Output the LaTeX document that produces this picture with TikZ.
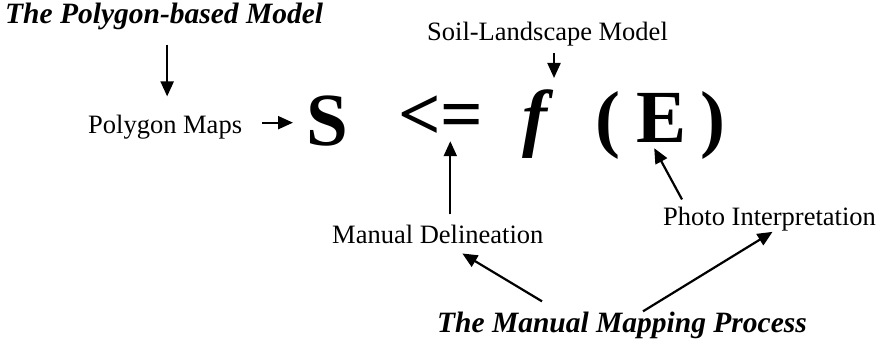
\documentclass[tikz,border=0pt]{standalone}
\usepackage{fontspec}
\setmainfont{Liberation Serif}
\usetikzlibrary{arrows.meta,positioning}

\begin{document}
\begin{tikzpicture}[
    x=1pt, y=-1pt,
    >={Triangle[length=15pt,width=13pt]},
    lbl/.style={inner sep=0pt, anchor=base west, font=\fontsize{26.5pt}{30pt}\selectfont},
    title/.style={inner sep=0pt, anchor=base west, font=\fontsize{29.5pt}{34pt}\selectfont\bfseries\itshape},
    eqn/.style={inner sep=0pt, anchor=base west, font=\fontsize{75pt}{80pt}\selectfont\bfseries},
    arr/.style={->, line width=2.2pt}
]
\useasboundingbox (0,0) rectangle (878,345);

% texts
\node[title] (polymodel) at (5,24) {The Polygon-based Model};
\node[lbl] (polymaps) at (88,133) {Polygon Maps};
\node[lbl] (soil) at (427,41) {Soil-Landscape Model};
\node[lbl] (delin) at (332,243) {Manual Delineation};
\node[lbl] (photo) at (663,225) {Photo Interpretation};
\node[title] (mmp) at (437,332) {The Manual Mapping Process};

% the formula
\node[eqn] (S) at (306,145) {S};
\node[eqn] (leq) at (398,139) {<=};
\node[eqn, font=\fontsize{75pt}{80pt}\selectfont\bfseries\itshape] (f) at (522,142) {f};
\node[eqn] (lpar) at (595,143) {(};
\node[eqn] (E) at (636,142) {E};
\node[eqn] (rpar) at (700,143) {)};

% arrows
\draw[arr, shorten <=14pt, shorten >=18pt] ([xshift=3pt]polymodel.south) -- ([xshift=3pt]polymodel.south |- polymaps.north);
\draw[arr, shorten <=20pt, shorten >=13pt] ([yshift=4pt]polymaps.east) -- ([yshift=4pt]polymaps.east -| S.west);
\draw[arr, shorten <=6pt, shorten >=11pt] ([xshift=6.5pt]soil.south) -- ([xshift=6.5pt]soil.south |- f.north);
\draw[arr, shorten <=10pt, shorten >=2pt] ([xshift=12.5pt]delin.north) -- ([xshift=12.5pt]delin.north |- leq.south);
\draw[arr] ([xshift=19pt,yshift=7pt]photo.north west) -- ([xshift=-7pt,yshift=-6pt]E.south);
\draw[arr] ([xshift=105pt,yshift=10pt]mmp.north west) -- ([xshift=24.5pt,yshift=-10pt]delin.south);
\draw[arr] ([xshift=21pt]mmp.north) -- ([xshift=3pt,yshift=-1pt]photo.south);
\end{tikzpicture}
\end{document}
